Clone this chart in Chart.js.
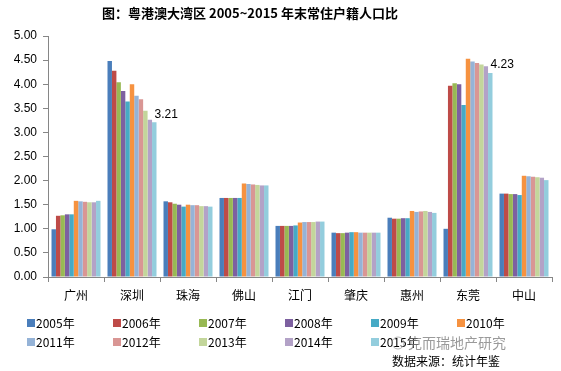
<!DOCTYPE html>
<html>
<head>
<meta charset="utf-8">
<script src="https://cdn.jsdelivr.net/npm/chart.js@4.4.0/dist/chart.umd.min.js"></script>
<style>
  body { margin: 0; background: #fff; }
  #wrap { width: 561px; height: 371px; }
</style>
</head>
<body>
<div id="wrap"><canvas id="mychart" width="561" height="371"></canvas></div>
<script>
const cities = ['广州', '深圳', '珠海', '佛山', '江门', '肇庆', '惠州', '东莞', '中山'];
const years = ['2005年', '2006年', '2007年', '2008年', '2009年', '2010年', '2011年', '2012年', '2013年', '2014年', '2015年'];
const yTicks = [0, 0.5, 1, 1.5, 2, 2.5, 3, 3.5, 4, 4.5, 5];

const v2005 = [0.99, 4.48, 1.57, 1.64, 1.06, 0.92, 1.23, 1.00, 1.73];
const v2006 = [1.27, 4.28, 1.55, 1.64, 1.06, 0.91, 1.21, 3.97, 1.73];
const v2007 = [1.28, 4.04, 1.52, 1.64, 1.06, 0.91, 1.21, 4.02, 1.72];
const v2008 = [1.30, 3.86, 1.50, 1.64, 1.06, 0.92, 1.22, 4.00, 1.72];
const v2009 = [1.30, 3.64, 1.46, 1.64, 1.07, 0.93, 1.22, 3.57, 1.70];
const v2010 = [1.58, 4.00, 1.50, 1.94, 1.13, 0.93, 1.37, 4.53, 2.10];
const v2011 = [1.57, 3.76, 1.49, 1.93, 1.14, 0.92, 1.35, 4.47, 2.09];
const v2012 = [1.56, 3.69, 1.49, 1.92, 1.14, 0.92, 1.36, 4.44, 2.08];
const v2013 = [1.55, 3.45, 1.47, 1.91, 1.14, 0.92, 1.37, 4.41, 2.07];
const v2014 = [1.55, 3.26, 1.47, 1.90, 1.15, 0.92, 1.35, 4.37, 2.06];
const v2015 = [1.58, 3.21, 1.46, 1.90, 1.15, 0.92, 1.33, 4.23, 2.01];

const series = [v2005, v2006, v2007, v2008, v2009, v2010, v2011, v2012, v2013, v2014, v2015];
const colors = ['#4A7EBB', '#BE4B48', '#98B954', '#7D60A0', '#46AAC5', '#F69240',
                '#95B3D7', '#D99694', '#C3D69B', '#B3A2C7', '#93CDDD'];

// bars that carry a value label: [dataset, city index]
const labelled = [[10, 1], [10, 7]];

const font = "'Liberation Sans', 'Noto Sans CJK SC', sans-serif";
const cjk = "'Noto Sans CJK SC', 'Liberation Sans', sans-serif";

const extras = {
    id: 'extras',
    afterDraw(chart) {
        const c = chart.ctx;
        c.save();
        // title
        c.fillStyle = '#000';
        c.font = 'bold 13px ' + cjk;
        c.textAlign = 'center';
        c.textBaseline = 'middle';
        c.fillText('图：粤港澳大湾区 2005~2015 年末常住户籍人口比', 250, 13);
        c.textAlign = 'left';

        // data labels
        c.font = '12px ' + font;
        labelled.forEach(([d, i]) => {
            const bar = chart.getDatasetMeta(d).data[i];
            c.fillText(series[d][i].toFixed(2), bar.x + bar.width / 2 - 2, bar.y - 8);
        });

        // legend, 6 columns x 2 rows
        c.font = '12px ' + cjk;
        years.forEach((y, k) => {
            const col = k % 6, row = Math.floor(k / 6);
            const x = 27 + col * 86, yy = 323 + row * 19;
            c.fillStyle = colors[k];
            c.fillRect(x, yy - 4, 8, 8);
            c.fillStyle = '#000';
            c.fillText(y, x + 9, yy);
        });

        // source + watermark
        c.font = '12px ' + cjk;
        c.fillText('数据来源：统计年鉴', 392, 361);
        c.fillStyle = 'rgba(120,120,120,0.75)';
        c.font = '14px ' + cjk;
        c.fillText('克而瑞地产研究', 408, 343);
        c.strokeStyle = 'rgba(150,150,150,0.7)';
        c.lineWidth = 1;
        c.beginPath();
        c.arc(398, 343, 6, 0, Math.PI * 2);
        c.stroke();
        c.restore();
    }
};

const ctx = document.getElementById('mychart').getContext('2d');
let mychart = new Chart(ctx, {
    type: 'bar',
    data: {
        labels: cities,
        datasets: years.map((y, k) => ({
            label: y,
            data: series[k],
            backgroundColor: colors[k],
            borderWidth: 0,
            categoryPercentage: 0.875,
            barPercentage: 1.0
        }))
    },
    options: {
        responsive: false,
        animation: false,
        layout: { padding: { top: 36, right: 9, left: 0, bottom: 0 } },
        plugins: {
            legend: { display: false },
            tooltip: { enabled: false }
        },
        scales: {
            x: {
                grid: { drawOnChartArea: false, tickLength: 5, color: '#868686', offset: true },
                border: { color: '#868686' },
                ticks: { color: '#000', font: { size: 12, family: cjk }, padding: 6 },
                afterFit(s) { s.height = 94; }
            },
            y: {
                min: 0,
                max: 5,
                afterBuildTicks(s) { s.ticks = yTicks.map(v => ({ value: v })); },
                grid: { drawOnChartArea: false, tickLength: 5, color: '#868686' },
                border: { color: '#868686' },
                ticks: {
                    color: '#000',
                    font: { size: 12, family: font },
                    padding: 6,
                    callback: v => v.toFixed(2)
                },
                afterFit(s) { s.width = 48; }
            }
        }
    },
    plugins: [extras]
});
</script>
</body>
</html>
